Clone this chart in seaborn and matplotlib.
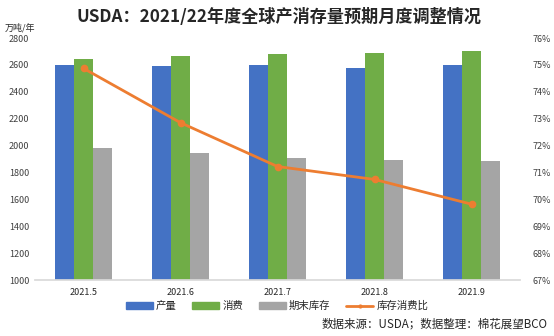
import matplotlib
matplotlib.use("Agg")
import matplotlib.pyplot as plt
import seaborn as sns
import pandas as pd
from matplotlib.patches import Patch
from matplotlib.lines import Line2D

months = ["2021.5", "2021.6", "2021.7", "2021.8", "2021.9"]
production = [2599, 2592, 2599, 2579, 2599]
consumption = [2644, 2666, 2681, 2686, 2701]
ending_stock = [1979, 1944, 1910, 1895, 1885]
stock_ratio = [74.87, 72.85, 71.22, 70.74, 69.82]
series_names = ["产量", "消费", "期末库存"]
ratio_name = "库存消费比"

colors = ["#4472C4", "#70AD47", "#A5A5A5"]
orange = "#ED7D31"

sns.set_theme(style="white")
plt.rcParams['font.family'] = ['Noto Sans CJK SC', 'DejaVu Sans']

df = pd.DataFrame({
    "month": months * 3,
    "value": production + consumption + ending_stock,
    "series": [series_names[0]] * 5 + [series_names[1]] * 5 + [series_names[2]] * 5,
})

fig = plt.figure(figsize=(5.54, 3.36), dpi=100)
ax = fig.add_axes([35/554, 56/336, 485/554, 242/336])
sns.barplot(data=df, x="month", y="value", hue="series", palette=colors,
            width=0.58, gap=0, ax=ax, legend=False, saturation=1,
            linewidth=0, edgecolor="none")
ax.set_ylim(1000, 2800)
ax.set_yticks(range(1000, 2801, 200))
ax.set_xlim(-0.5, 4.5)
ax.set_xlabel("")
ax.set_ylabel("")
for s in ["top", "left", "right"]:
    ax.spines[s].set_visible(False)
ax.spines["bottom"].set_color("#D9D9D9")
ax.tick_params(axis="y", length=0, labelsize=6.5, pad=4, colors="#404040")
ax.tick_params(axis="x", length=0, labelsize=6.5, pad=6, colors="#262626")

ax2 = ax.twinx()
sns.pointplot(x=months, y=stock_ratio, color=orange, ax=ax2, errorbar=None,
              markers="o", markersize=4, linewidth=2)
ax2.set_ylim(67, 76)
ax2.set_yticks(range(67, 77))
ax2.set_yticklabels([f"{v}%" for v in range(67, 77)])
ax2.set_xlim(-0.5, 4.5)
for s in ["top", "left", "right", "bottom"]:
    ax2.spines[s].set_visible(False)
ax2.tick_params(axis="y", length=0, labelsize=6.5, pad=9, colors="#404040")
ax2.set_ylabel("")

fig.text(279/554, 1 - 17/336, "USDA：2021/22年度全球产消存量预期月度调整情况",
         ha="center", va="center", fontsize=12.3, fontweight="bold", color="#262626")
fig.text(5/554, 1 - 28/336, "万吨/年", ha="left", va="center", fontsize=6.5, color="#262626")

handles = [Patch(color=colors[0]), Patch(color=colors[1]), Patch(color=colors[2]),
           Line2D([], [], color=orange, lw=2, marker="o", markersize=2)]
fig.legend(handles, series_names + [ratio_name], loc="center", ncol=4,
           bbox_to_anchor=(277/554, 1 - 306/336), frameon=False, fontsize=7.5,
           handlelength=2.6, handleheight=0.6, handletextpad=0.3, columnspacing=1.5)

fig.text(548/554, 1 - 324/336, "数据来源：USDA；数据整理：棉花展望BCO",
         ha="right", va="center", fontsize=8.3, color="#262626")

fig.savefig("out.png", dpi=100)
